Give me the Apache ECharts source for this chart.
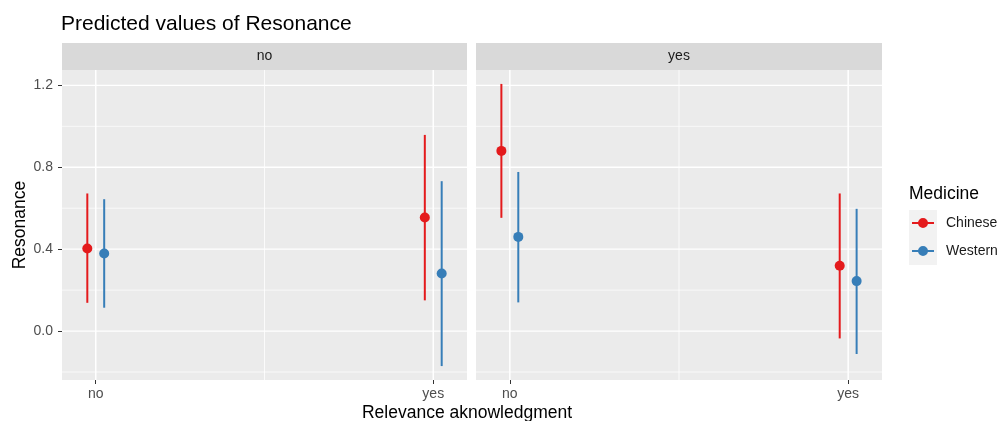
<!DOCTYPE html>
<html>
<head>
<meta charset="utf-8">
<title>Predicted values of Resonance</title>
<script src="https://cdn.jsdelivr.net/npm/echarts@6/dist/echarts.min.js"></script>
<style>
	html, body { margin: 0; padding: 0; background: #ffffff; }
	#chart { width: 997px; height: 421px; }
</style>
</head>
<body>
<div id="chart"></div>
<script>
	// x categories (Relevance aknowledgment) and facets
	var categories = ['no', 'yes'];
	var facets = ['no', 'yes'];
	var medicines = ['Chinese', 'Western'];

	// facet "no"
	var noChineseEst = [0.403, 0.555];
	var noChineseLo = [0.138, 0.150];
	var noChineseHi = [0.672, 0.958];
	var noWesternEst = [0.379, 0.281];
	var noWesternLo = [0.114, -0.171];
	var noWesternHi = [0.644, 0.732];

	// facet "yes"
	var yesChineseEst = [0.880, 0.319];
	var yesChineseLo = [0.553, -0.036];
	var yesChineseHi = [1.207, 0.672];
	var yesWesternEst = [0.460, 0.244];
	var yesWesternLo = [0.140, -0.112];
	var yesWesternHi = [0.777, 0.597];

	// axes
	var yMin = -0.239;
	var yMax = 1.275;
	var yTicks = [0, 0.4, 0.8, 1.2];
	var yMinorTicks = [-0.2, 0.2, 0.6, 1.0];
	var xTicks = [1, 2];
	var xMinorTicks = [1.5];
	var xMin = 0.9;
	var xMax = 2.1;
	var dodge = 0.025;

	var colors = ['#E41A1C', '#377EB8'];
	var font = '"Liberation Sans", Arial, Helvetica, sans-serif';
	var keyIcon = 'path://M0,4L22,4L22,6L0,6Z M16,5A5,5,0,1,1,6,5A5,5,0,1,1,16,5Z';

	var facetData = [
		[[noChineseEst, noChineseLo, noChineseHi], [noWesternEst, noWesternLo, noWesternHi]],
		[[yesChineseEst, yesChineseLo, yesChineseHi], [yesWesternEst, yesWesternLo, yesWesternHi]]
	];

	var grids = [
		{ left: 62, top: 70, width: 405, height: 310 },
		{ left: 476, top: 70, width: 406, height: 310 }
	];

	function points(est, offset) {
		return est.map(function (v, i) { return [i + 1 + offset, v]; });
	}
	function bars(lo, hi, offset) {
		return lo.map(function (v, i) { return [i + 1 + offset, v, hi[i]]; });
	}

	var xAxes = [], yAxes = [], series = [], graphics = [];

	grids.forEach(function (g, gi) {
		g.show = true;
		g.backgroundColor = '#EBEBEB';
		g.borderWidth = 0;

		xAxes.push({
			type: 'value', gridIndex: gi, min: xMin, max: xMax, position: 'bottom',
			axisLine: { show: false, onZero: false },
			splitLine: { show: false },
			axisTick: { show: true, customValues: xTicks, length: 4, lineStyle: { color: '#333333', width: 1 } },
			axisLabel: {
				customValues: xTicks, margin: 7, color: '#4D4D4D', fontSize: 14, fontFamily: font,
				formatter: function (v) { return categories[Math.round(v) - 1]; }
			}
		});

		yAxes.push({
			type: 'value', gridIndex: gi, min: yMin, max: yMax, position: 'left',
			name: gi === 0 ? 'Resonance' : '',
			nameLocation: 'middle', nameGap: 33,
			nameTextStyle: { color: '#000000', fontSize: 17.5, fontFamily: font },
			axisLine: { show: false, onZero: false },
			splitLine: { show: false },
			axisTick: { show: gi === 0, customValues: yTicks, length: 4, lineStyle: { color: '#333333', width: 1 } },
			axisLabel: {
				show: gi === 0, customValues: yTicks, margin: 9, color: '#4D4D4D', fontSize: 14, fontFamily: font,
				formatter: function (v) { return v.toFixed(1); }
			}
		});

		// panel grid lines
		var hLines = yTicks.map(function (v) { return [v, 1.3]; })
			.concat(yMinorTicks.map(function (v) { return [v, 0.7]; }));
		var vLines = xTicks.map(function (v) { return [v, 1.5]; })
			.concat(xMinorTicks.map(function (v) { return [v, 0.8]; }));
		series.push({
			type: 'custom', xAxisIndex: gi, yAxisIndex: gi, silent: true, z: 1,
			data: hLines,
			renderItem: function (params, api) {
				var cs = params.coordSys;
				var y = api.coord([xMin, api.value(0)])[1];
				return { type: 'line', shape: { x1: cs.x, y1: y, x2: cs.x + cs.width, y2: y },
					style: { stroke: '#ffffff', lineWidth: api.value(1) } };
			}
		});
		series.push({
			type: 'custom', xAxisIndex: gi, yAxisIndex: gi, silent: true, z: 1,
			data: vLines,
			renderItem: function (params, api) {
				var cs = params.coordSys;
				var x = api.coord([api.value(0), yMin])[0];
				return { type: 'line', shape: { x1: x, y1: cs.y, x2: x, y2: cs.y + cs.height },
					style: { stroke: '#ffffff', lineWidth: api.value(1) } };
			}
		});

		medicines.forEach(function (m, mi) {
			var d = facetData[gi][mi];
			var off = mi === 0 ? -dodge : dodge;
			series.push({
				name: m, type: 'scatter', xAxisIndex: gi, yAxisIndex: gi, z: 4,
				symbol: 'circle', symbolSize: 10,
				itemStyle: { color: colors[mi], opacity: 1 },
				data: points(d[0], off)
			});
			series.push({
				name: m, type: 'custom', xAxisIndex: gi, yAxisIndex: gi, z: 3,
				itemStyle: { color: colors[mi] },
				data: bars(d[1], d[2], off),
				renderItem: function (params, api) {
					var p1 = api.coord([api.value(0), api.value(1)]);
					var p2 = api.coord([api.value(0), api.value(2)]);
					return { type: 'line', shape: { x1: p1[0], y1: p1[1], x2: p2[0], y2: p2[1] },
						style: { stroke: colors[mi], lineWidth: 2 } };
				}
			});
		});

		// facet strip
		graphics.push({ type: 'rect', shape: { x: g.left, y: 43, width: g.width, height: 27 }, style: { fill: '#D9D9D9' }, silent: true });
		graphics.push({ type: 'text', x: g.left + g.width / 2, y: 56.5,
			style: { text: facets[gi], fill: '#1A1A1A', font: '14px ' + font, align: 'center', verticalAlign: 'middle' } });
	});

	// title, x title, legend title and key background
	graphics.push({ type: 'text', x: 61, y: 24,
		style: { text: 'Predicted values of Resonance', fill: '#000000', font: '21px ' + font, verticalAlign: 'middle' } });
	graphics.push({ type: 'text', x: 467, y: 413,
		style: { text: 'Relevance aknowledgment', fill: '#000000', font: '17.5px ' + font, align: 'center', verticalAlign: 'middle' } });
	graphics.push({ type: 'text', x: 909, y: 194,
		style: { text: 'Medicine', fill: '#000000', font: '17.5px ' + font, verticalAlign: 'middle' } });
	graphics.push({ type: 'rect', shape: { x: 909, y: 210, width: 28, height: 55 }, style: { fill: '#F2F2F2' }, silent: true });

	var chart = echarts.init(document.getElementById('chart'));
	chart.setOption({
		animation: false,
		textStyle: { fontFamily: font },
		grid: grids,
		xAxis: xAxes,
		yAxis: yAxes,
		legend: {
			orient: 'vertical', left: 912, top: 216, padding: 0,
			itemWidth: 22, itemHeight: 10, itemGap: 14,
			selectedMode: false,
			data: medicines.map(function (m) { return { name: m, icon: keyIcon }; }),
			textStyle: { color: '#1A1A1A', fontSize: 14, lineHeight: 14, fontFamily: font, padding: [0, 0, 0, 7] }
		},
		graphic: graphics,
		series: series
	});
</script>
</body>
</html>
